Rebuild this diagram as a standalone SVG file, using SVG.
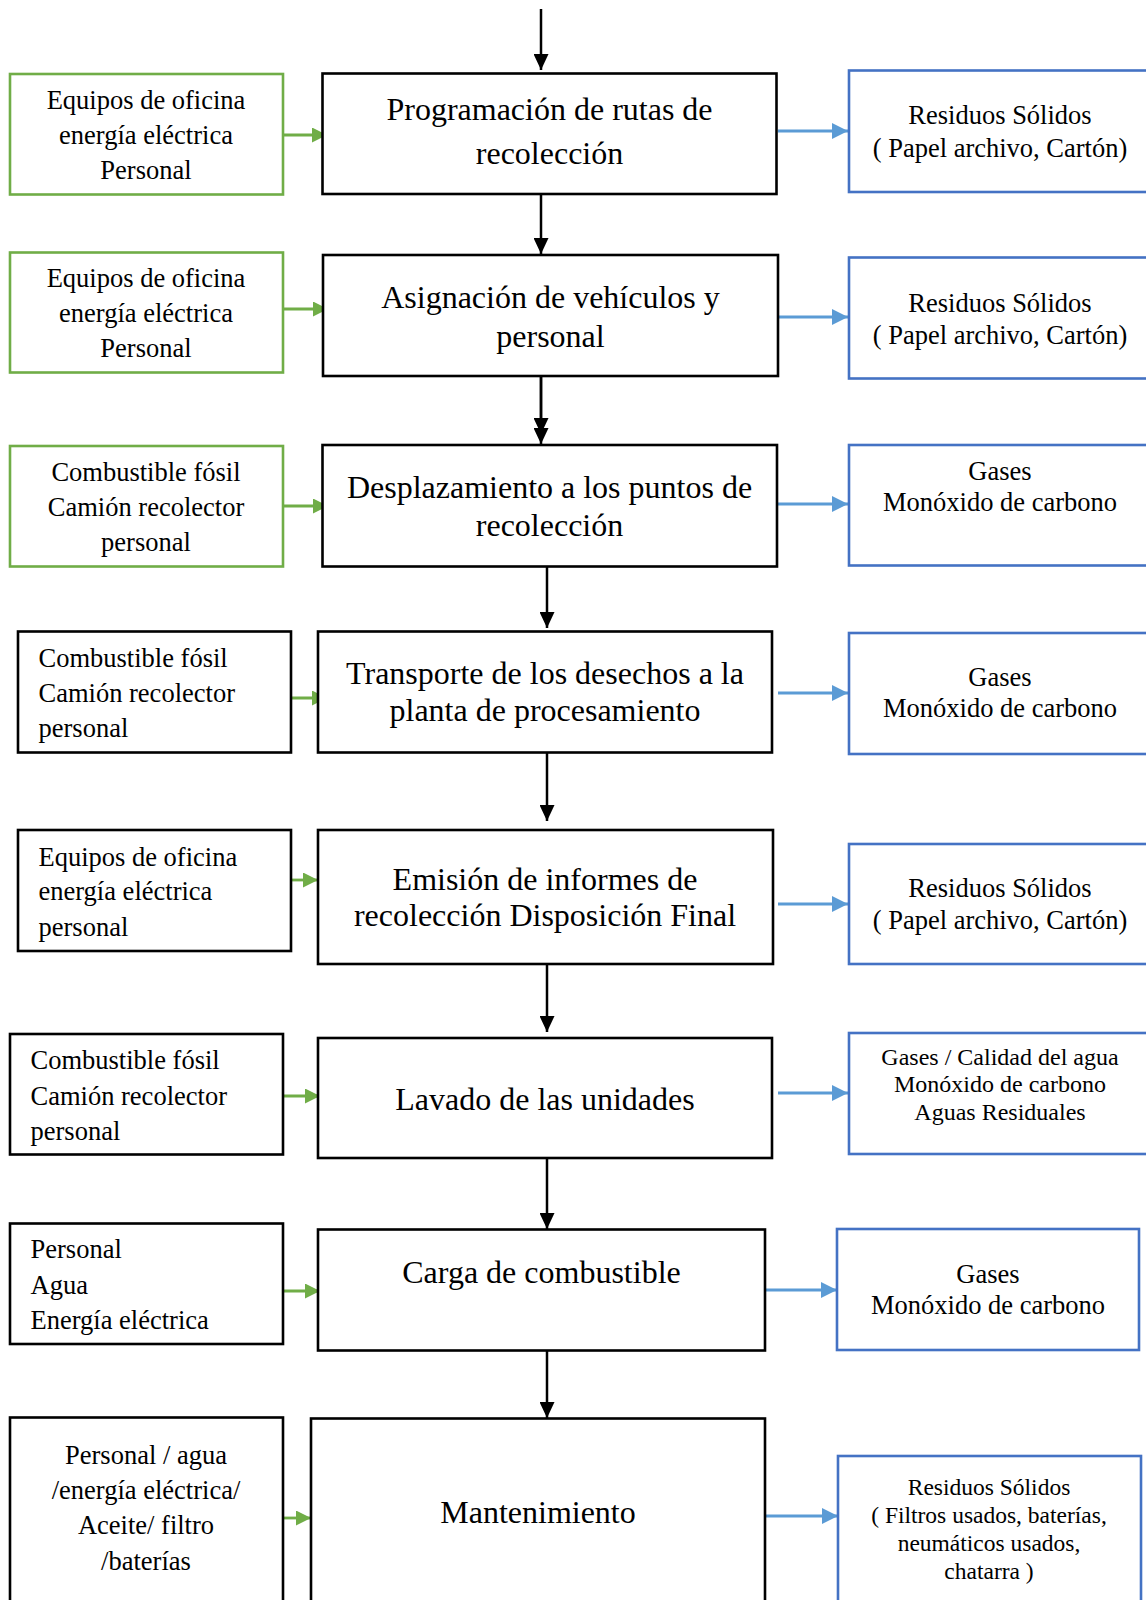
<svg xmlns="http://www.w3.org/2000/svg" width="1146" height="1600" viewBox="0 0 1146 1600">
<style>
text{font-family:"Liberation Serif","Times New Roman",serif;fill:#000}
.c{font-size:32px;text-anchor:middle}
.l{font-size:26.5px}
.lm{font-size:26.5px;text-anchor:middle}
.r{font-size:26.5px;text-anchor:middle}
.rs{font-size:24px;text-anchor:middle}
.rx{font-size:23.5px;text-anchor:middle}
.pb{fill:#fff;stroke:#000;stroke-width:2.6}
.gb{fill:#fff;stroke:#70AD47;stroke-width:2.6}
.bb{fill:#fff;stroke:#4472C4;stroke-width:2.6}
.ka{stroke:#000;stroke-width:2.5;fill:none;marker-end:url(#ak)}
.ga{stroke:#70AD47;stroke-width:2.8;fill:none;marker-end:url(#ag)}
.ba{stroke:#5B9BD5;stroke-width:2.8;fill:none;marker-end:url(#ab)}
</style>
<defs>
<marker id="ak" markerUnits="userSpaceOnUse" markerWidth="16" markerHeight="15" refX="16" refY="7.5" orient="auto"><path d="M0,0 L16,7.5 L0,15 z" fill="#000"/></marker>
<marker id="ag" markerUnits="userSpaceOnUse" markerWidth="15" markerHeight="15" refX="15" refY="7.5" orient="auto"><path d="M0,0 L15,7.5 L0,15 z" fill="#70AD47"/></marker>
<marker id="ab" markerUnits="userSpaceOnUse" markerWidth="16" markerHeight="16" refX="16" refY="8" orient="auto"><path d="M0,0 L16,8 L0,16 z" fill="#5B9BD5"/></marker>
</defs>
<rect width="1146" height="1600" fill="#fff"/>

<g id="connectors">
<line class="ka" x1="541" y1="9" x2="541" y2="70"/>
<line class="ka" x1="541" y1="194" x2="541" y2="254"/>
<line class="ka" x1="541" y1="369" x2="541" y2="434"/>
<line class="ka" x1="541" y1="369" x2="541" y2="444"/>
<line class="ka" x1="547" y1="561" x2="547" y2="628"/>
<line class="ka" x1="547" y1="753" x2="547" y2="821"/>
<line class="ka" x1="547" y1="964" x2="547" y2="1032"/>
<line class="ka" x1="547" y1="1158" x2="547" y2="1229"/>
<line class="ka" x1="547" y1="1350" x2="547" y2="1418"/>

<line class="ga" x1="283" y1="135" x2="327" y2="135"/>
<line class="ga" x1="283" y1="309" x2="328" y2="309"/>
<line class="ga" x1="283" y1="506" x2="328" y2="506"/>
<line class="ga" x1="291" y1="698" x2="327" y2="698"/>
<line class="ga" x1="291" y1="880" x2="318" y2="880"/>
<line class="ga" x1="283" y1="1096" x2="320" y2="1096"/>
<line class="ga" x1="283" y1="1291" x2="320" y2="1291"/>
<line class="ga" x1="283" y1="1518" x2="311" y2="1518"/>

<line class="ba" x1="778" y1="131" x2="848" y2="131"/>
<line class="ba" x1="778" y1="317" x2="848" y2="317"/>
<line class="ba" x1="778" y1="504" x2="848" y2="504"/>
<line class="ba" x1="778" y1="693" x2="848" y2="693"/>
<line class="ba" x1="778" y1="904" x2="848" y2="904"/>
<line class="ba" x1="778" y1="1093" x2="848" y2="1093"/>
<line class="ba" x1="766" y1="1290" x2="837" y2="1290"/>
<line class="ba" x1="766" y1="1516" x2="838" y2="1516"/>
</g>

<g id="p1"><rect class="pb" x="322.5" y="73.5" width="454" height="120.5"/>
<text class="c" x="549.5" y="120">Programación de rutas de</text>
<text class="c" x="549.5" y="164">recolección</text></g>
<g id="i1"><rect class="gb" x="10" y="74" width="273" height="120.5"/>
<text class="lm" x="146" y="109">Equipos de oficina</text>
<text class="lm" x="146" y="144">energía eléctrica</text>
<text class="lm" x="146" y="179">Personal</text></g>
<g id="o1"><rect class="bb" x="849" y="70.5" width="320" height="121.5"/>
<text class="r" x="1000" y="124">Residuos Sólidos</text>
<text class="r" x="1000" y="157">( Papel archivo, Cartón)</text></g>

<g id="p2"><rect class="pb" x="323" y="255" width="455" height="121"/>
<text class="c" x="550.5" y="308">Asignación de vehículos y</text>
<text class="c" x="550.5" y="347">personal</text></g>
<g id="i2"><rect class="gb" x="10" y="252.5" width="273" height="120"/>
<text class="lm" x="146" y="287">Equipos de oficina</text>
<text class="lm" x="146" y="322">energía eléctrica</text>
<text class="lm" x="146" y="357">Personal</text></g>
<g id="o2"><rect class="bb" x="849" y="257.5" width="320" height="121"/>
<text class="r" x="1000" y="312">Residuos Sólidos</text>
<text class="r" x="1000" y="344">( Papel archivo, Cartón)</text></g>

<g id="p3"><rect class="pb" x="322.5" y="445" width="454.5" height="121.5"/>
<text class="c" x="549.5" y="498">Desplazamiento a los puntos de</text>
<text class="c" x="549.5" y="536">recolección</text></g>
<g id="i3"><rect class="gb" x="10" y="446" width="273" height="120.5"/>
<text class="lm" x="146" y="481">Combustible fósil</text>
<text class="lm" x="146" y="516">Camión recolector</text>
<text class="lm" x="146" y="551">personal</text></g>
<g id="o3"><rect class="bb" x="849" y="445" width="320" height="120.5"/>
<text class="r" x="1000" y="480">Gases</text>
<text class="r" x="1000" y="511">Monóxido de carbono</text></g>

<g id="p4"><rect class="pb" x="318" y="631.5" width="454" height="121"/>
<text class="c" x="545" y="684">Transporte de los desechos a la</text>
<text class="c" x="545" y="721">planta de procesamiento</text></g>
<g id="i4"><rect class="pb" x="18" y="631.5" width="273" height="121"/>
<text class="l" x="38.5" y="667">Combustible fósil</text>
<text class="l" x="38.5" y="702">Camión recolector</text>
<text class="l" x="38.5" y="737">personal</text></g>
<g id="o4"><rect class="bb" x="849" y="633" width="320" height="121"/>
<text class="r" x="1000" y="686">Gases</text>
<text class="r" x="1000" y="717">Monóxido de carbono</text></g>

<g id="p5"><rect class="pb" x="318" y="830" width="455" height="134"/>
<text class="c" x="545" y="890">Emisión de informes de</text>
<text class="c" x="545" y="926">recolección Disposición Final</text></g>
<g id="i5"><rect class="pb" x="18" y="830" width="273" height="121"/>
<text class="l" x="38.5" y="866">Equipos de oficina</text>
<text class="l" x="38.5" y="900">energía eléctrica</text>
<text class="l" x="38.5" y="936">personal</text></g>
<g id="o5"><rect class="bb" x="849" y="844" width="320" height="120"/>
<text class="r" x="1000" y="897">Residuos Sólidos</text>
<text class="r" x="1000" y="929">( Papel archivo, Cartón)</text></g>

<g id="p6"><rect class="pb" x="318" y="1038" width="454" height="120"/>
<text class="c" x="545" y="1110">Lavado de las unidades</text></g>
<g id="i6"><rect class="pb" x="10" y="1034" width="273" height="120.5"/>
<text class="l" x="30.5" y="1069">Combustible fósil</text>
<text class="l" x="30.5" y="1105">Camión recolector</text>
<text class="l" x="30.5" y="1140">personal</text></g>
<g id="o6"><rect class="bb" x="849" y="1033" width="320" height="121"/>
<text class="rs" x="1000" y="1065">Gases / Calidad del agua</text>
<text class="rs" x="1000" y="1092">Monóxido de carbono</text>
<text class="rs" x="1000" y="1120">Aguas Residuales</text></g>

<g id="p7"><rect class="pb" x="318" y="1229.5" width="447" height="121"/>
<text class="c" x="541.5" y="1283">Carga de combustible</text></g>
<g id="i7"><rect class="pb" x="10" y="1223.5" width="273" height="120.5"/>
<text class="l" x="30.5" y="1258">Personal</text>
<text class="l" x="30.5" y="1294">Agua</text>
<text class="l" x="30.5" y="1329">Energía eléctrica</text></g>
<g id="o7"><rect class="bb" x="837" y="1229" width="302" height="121"/>
<text class="r" x="988" y="1283">Gases</text>
<text class="r" x="988" y="1314">Monóxido de carbono</text></g>

<g id="p8"><rect class="pb" x="311" y="1418.5" width="454" height="200"/>
<text class="c" x="538" y="1523">Mantenimiento</text></g>
<g id="i8"><rect class="pb" x="10" y="1417.5" width="273" height="200"/>
<text class="lm" x="146" y="1464">Personal / agua</text>
<text class="lm" x="146" y="1499">/energía eléctrica/</text>
<text class="lm" x="146" y="1534">Aceite/ filtro</text>
<text class="lm" x="146" y="1570">/baterías</text></g>
<g id="o8"><rect class="bb" x="838" y="1456" width="303" height="170"/>
<text class="rx" x="989" y="1495">Residuos Sólidos</text>
<text class="rx" x="989" y="1523">( Filtros usados, baterías,</text>
<text class="rx" x="989" y="1551">neumáticos usados,</text>
<text class="rx" x="989" y="1579">chatarra )</text></g>
</svg>
